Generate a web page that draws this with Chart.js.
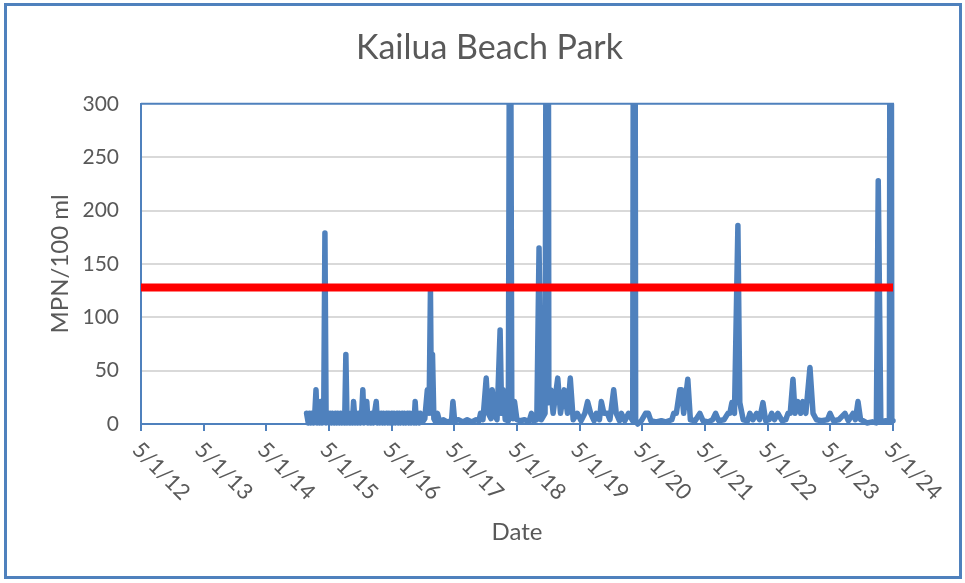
<!DOCTYPE html>
<html>
<head>
<meta charset="utf-8">
<script src="https://cdn.jsdelivr.net/npm/chart.js@4.4.1/dist/chart.umd.min.js"></script>
<style>
html,body{margin:0;padding:0;background:#ffffff;}
#wrap{position:relative;width:965px;height:583px;overflow:hidden;}
#c{position:absolute;left:0;top:0;}
#frame{position:absolute;left:4px;top:3px;width:952px;height:570px;border:3px solid #4F81BD;pointer-events:none;}
</style>
</head>
<body>
<div id="wrap"><canvas id="c" width="965" height="583"></canvas><div id="frame"></div></div>
<script>
const chartTitle = 'Kailua Beach Park';
const xTitle = 'Date';
const yTitle = 'MPN/100 ml';

const tickDates = ['2012-05-01','2013-05-01','2014-05-01','2015-05-01','2016-05-01','2017-05-01','2018-05-01',
                   '2019-05-01','2020-05-01','2021-05-01','2022-05-01','2023-05-01','2024-05-01'];
const tickLabels = ['5/1/12','5/1/13','5/1/14','5/1/15','5/1/16','5/1/17','5/1/18',
                    '5/1/19','5/1/20','5/1/21','5/1/22','5/1/23','5/1/24'];
const yTicks = [0, 50, 100, 150, 200, 250, 300];
const standardValue = 128;

const sampleDates = [
 '2014-12-22',
 '2015-01-01','2015-01-08','2015-01-15','2015-01-22','2015-02-01','2015-02-08','2015-02-15','2015-02-22',
 '2015-03-01','2015-03-08','2015-03-15','2015-03-22','2015-04-01','2015-04-08','2015-04-15','2015-04-22',
 '2015-05-01','2015-05-08','2015-05-15','2015-05-22','2015-06-01','2015-06-08','2015-06-15','2015-06-22',
 '2015-07-01','2015-07-08','2015-07-15','2015-07-22','2015-08-01','2015-08-08','2015-08-15','2015-08-22',
 '2015-09-01','2015-09-08','2015-09-15','2015-09-22','2015-10-01','2015-10-08','2015-10-15','2015-10-22',
 '2015-11-01','2015-11-08','2015-11-15','2015-11-22','2015-12-01','2015-12-08','2015-12-15','2015-12-22',
 '2016-01-01','2016-01-08','2016-01-15','2016-01-22','2016-02-01','2016-02-08','2016-02-15','2016-02-22',
 '2016-03-01','2016-03-08','2016-03-15','2016-03-22','2016-04-01','2016-04-08','2016-04-15','2016-04-22',
 '2016-05-01','2016-05-08','2016-05-15','2016-05-22','2016-06-01','2016-06-08','2016-06-15','2016-06-22',
 '2016-07-01','2016-07-08','2016-07-15','2016-07-22','2016-08-01','2016-08-08','2016-08-15','2016-08-22',
 '2016-09-01','2016-09-08','2016-09-15','2016-09-22','2016-10-01','2016-10-08','2016-10-15',
 '2016-10-28','2016-11-10','2016-11-25','2016-12-05','2016-12-13','2016-12-19','2016-12-25',
 '2017-01-02','2017-01-12','2017-01-23','2017-02-05','2017-02-25','2017-03-20','2017-04-15','2017-04-23','2017-05-03','2017-05-25',
 '2017-06-20','2017-07-15','2017-08-10','2017-09-05','2017-09-22','2017-10-01','2017-10-15','2017-11-03','2017-11-15','2017-12-01',
 '2017-12-08','2017-12-20',
 '2018-01-05','2018-01-23','2018-02-01','2018-02-10','2018-02-22','2018-03-12','2018-03-22','2018-04-01','2018-04-08','2018-04-17',
 '2018-05-01','2018-05-20','2018-06-15','2018-07-10','2018-07-25','2018-08-08','2018-08-25','2018-09-07','2018-09-20','2018-10-12',
 '2018-10-27','2018-11-03','2018-11-15','2018-11-28','2018-12-25',
 '2019-01-10','2019-02-01','2019-02-20','2019-03-08','2019-03-25','2019-04-18','2019-05-10','2019-06-01','2019-06-17','2019-07-05',
 '2019-07-25','2019-08-07','2019-08-25','2019-09-05','2019-09-20','2019-10-10','2019-10-25','2019-11-16','2019-12-01','2019-12-20',
 '2019-12-31',
 '2020-01-20','2020-02-10','2020-03-06','2020-03-15','2020-03-23','2020-04-04','2020-04-25','2020-05-20','2020-06-05','2020-06-20',
 '2020-07-20','2020-08-20','2020-09-15','2020-10-20','2020-10-31','2020-11-15','2020-12-05','2020-12-15','2020-12-28',
 '2021-01-21','2021-02-05','2021-03-05','2021-04-01','2021-04-20','2021-05-20','2021-06-15','2021-07-02','2021-07-20','2021-08-20',
 '2021-09-12','2021-09-23','2021-10-05','2021-10-20','2021-11-09','2021-11-20','2021-12-10',
 '2022-01-05','2022-01-18','2022-02-05','2022-02-26','2022-03-15','2022-04-04','2022-04-20','2022-05-10','2022-05-25','2022-06-10',
 '2022-06-30','2022-07-25','2022-08-15','2022-08-28','2022-09-10','2022-09-26','2022-10-08','2022-10-25','2022-11-10','2022-11-23',
 '2022-12-10',
 '2023-01-03','2023-01-21','2023-02-10','2023-03-10','2023-04-15','2023-04-30','2023-05-20','2023-06-20','2023-07-26','2023-08-15',
 '2023-09-11','2023-09-25','2023-10-10','2023-10-25','2023-11-10','2023-12-01',
 '2024-01-01','2024-01-25','2024-02-05','2024-02-20','2024-03-20','2024-04-10','2024-04-17','2024-04-24','2024-05-01'
];
const sampleValues = [
 10,
 1,10,1,10,1,10,32,1,
 10,1,21,1,10,179,1,10,
 1,10,1,10,1,10,1,10,
 1,10,1,10,1,65,1,10,
 1,10,1,21,1,10,1,10,
 1,10,32,1,10,21,1,10,
 1,10,1,10,21,1,10,1,
 10,1,10,1,10,1,10,1,
 10,1,10,1,10,1,10,1,
 10,1,10,1,10,1,10,1,
 10,1,21,1,10,1,10,
 2,5,32,10,125,10,65,
 5,2,10,2,4,2,3,21,3,4,
 2,4,2,4,3,10,4,43,10,5,
 32,10,
 4,88,10,32,4,3,600,21,5,21,
 4,3,4,2,10,3,4,165,4,10,
 1000,20,32,10,43,
 10,32,10,43,4,10,3,10,21,10,
 3,10,4,21,10,10,4,32,10,3,
 10,
 3,10,3,1000,3,0,3,10,10,3,
 2,3,2,4,10,10,32,32,10,
 42,4,3,10,3,2,4,10,3,4,
 10,10,20,10,186,20,4,
 3,10,4,10,4,20,3,4,10,4,
 10,3,4,10,10,42,10,21,10,21,
 10,
 53,10,4,3,4,10,3,4,10,3,
 10,4,21,4,3,1,
 2,1,228,2,3,2,1000,3,3
];

const DAY = 86400000;
const origin = Date.parse(tickDates[0]);
const toDay = d => (Date.parse(d) - origin) / DAY;

const blue = '#4F81BD';
const textGray = '#595959';

const plotFrame = {
  id: 'plotFrame',
  beforeDatasetsDraw(chart) {
    const a = chart.chartArea, ctx = chart.ctx;
    ctx.save();
    ctx.strokeStyle = blue; ctx.lineWidth = 2;
    ctx.beginPath();
    ctx.moveTo(a.left, a.top); ctx.lineTo(a.right, a.top); ctx.lineTo(a.right, a.bottom);
    ctx.stroke();
    ctx.restore();
  }
};

const xLabels = {
  id: 'xLabels',
  afterDraw(chart) {
    const sx = chart.scales.x, ctx = chart.ctx, a = chart.chartArea;
    ctx.save();
    ctx.font = '22px Lato';
    ctx.fillStyle = textGray;
    ctx.textAlign = 'left';
    ctx.textBaseline = 'middle';
    sx.ticks.forEach((t, i) => {
      const px = sx.getPixelForValue(t.value);
      ctx.save();
      ctx.translate(px - 5, a.bottom + 22);
      ctx.rotate(Math.PI / 4);
      ctx.fillText(tickLabels[i], 0, 0);
      ctx.restore();
    });
    ctx.restore();
  }
};

function build() {
  const points = sampleDates.map((d, i) => ({x: toDay(d), y: sampleValues[i]}));
  const xmin = toDay(tickDates[0]), xmax = toDay(tickDates[tickDates.length - 1]);
  new Chart(document.getElementById('c'), {
    type: 'line',
    data: {
      datasets: [
        {
          label: 'Standard',
          data: [{x: xmin, y: standardValue}, {x: xmax, y: standardValue}],
          borderColor: '#FF0000', borderWidth: 8, pointRadius: 0, order: 0,
          borderCapStyle: 'butt'
        },
        {
          label: 'Enterococcus',
          data: points,
          borderColor: blue, borderWidth: 5.5, pointRadius: 0, order: 1,
          borderJoinStyle: 'round', borderCapStyle: 'round', tension: 0,
          clip: {left: 3, right: 3, top: 0, bottom: 3}
        }
      ]
    },
    options: {
      responsive: false,
      animation: false,
      devicePixelRatio: 1,
      layout: {padding: {left: 14, right: 0, top: 0, bottom: 0}},
      plugins: {
        legend: {display: false},
        tooltip: {enabled: false},
        title: {
          display: true, text: chartTitle, color: textGray,
          font: {family: 'Lato', size: 34, weight: 'normal'},
          padding: {top: 28, bottom: 35}
        }
      },
      scales: {
        x: {
          type: 'linear', min: xmin, max: xmax,
          afterBuildTicks: s => { s.ticks = tickDates.map(d => ({value: toDay(d)})); },
          afterFit: s => { s.height = 159; },
          ticks: {display: false},
          grid: {drawOnChartArea: false, drawTicks: true, tickLength: 7, color: blue, lineWidth: 2},
          border: {display: true, color: blue, width: 2},
          title: {display: true, text: xTitle, color: textGray,
                  font: {family: 'Lato', size: 24}, padding: {top: 0, bottom: 36}}
        },
        y: {
          type: 'linear', min: 0, max: 300,
          afterBuildTicks: s => { s.ticks = yTicks.map(v => ({value: v})); },
          afterFit: s => { s.width = 127; },
          ticks: {color: textGray, font: {family: 'Lato', size: 21}, padding: 22},
          grid: {drawTicks: false, lineWidth: 2,
                 color: c => (c.tick && (c.tick.value === 0 || c.tick.value === 300)) ? 'rgba(0,0,0,0)' : '#D9D9D9'},
          border: {display: true, color: blue, width: 2},
          title: {display: true, text: yTitle, color: textGray,
                  font: {family: 'Lato', size: 24}, padding: {top: 32, bottom: 0}}
        },
        yRight: {
          type: 'linear', position: 'right', min: 0, max: 300, display: true,
          afterFit: s => { s.width = 72; },
          ticks: {display: false},
          grid: {display: false, drawTicks: false},
          border: {display: false}
        }
      }
    },
    plugins: [plotFrame, xLabels]
  });
}

const fontLoads = document.fonts ? Promise.all([
  document.fonts.load('21px Lato'), document.fonts.load('24px Lato'), document.fonts.load('34px Lato')
]).catch(() => {}) : Promise.resolve();
fontLoads.then(build, build);
</script>
</body>
</html>
